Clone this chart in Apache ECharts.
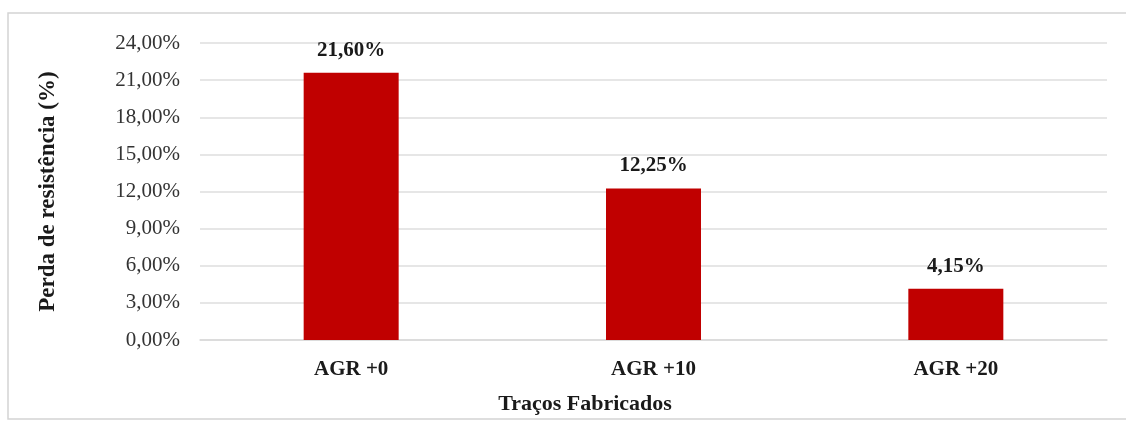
<!DOCTYPE html>
<html>
<head>
<meta charset="utf-8">
<script src="https://cdn.jsdelivr.net/npm/echarts@6/dist/echarts.min.js"></script>
<style>
  html, body { margin: 0; padding: 0; background: #ffffff; }
  #chart { width: 1126px; height: 421px; }
</style>
</head>
<body>
<div id="chart"></div>
<script>
// Strength loss per manufactured mix
const categories = ['AGR +0', 'AGR +10', 'AGR +20'];
const lossValues = [21.60, 12.25, 4.15];
const yTicks = [0, 3, 6, 9, 12, 15, 18, 21, 24];

const yTitle = 'Perda de resistência (%)';
const xTitle = 'Traços Fabricados';

const serif = '"Liberation Serif", "Times New Roman", serif';
const fmtPct = v => v.toFixed(2).replace('.', ',') + '%';

const chart = echarts.init(document.getElementById('chart'), null, { renderer: 'canvas' });

chart.setOption({
  backgroundColor: '#ffffff',
  animation: false,
  grid: { left: 200, right: 19, top: 43, bottom: 81 },
  graphic: [
    {
      type: 'rect',
      shape: { x: 8, y: 13, width: 1130, height: 406 },
      style: { fill: 'none', stroke: '#d4d4d4', lineWidth: 1.5 },
      silent: true
    },
    {
      type: 'text',
      x: 585, y: 404,
      style: {
        text: xTitle,
        font: 'bold 22px ' + serif,
        fill: '#1a1a1a',
        align: 'center',
        verticalAlign: 'middle'
      }
    }
  ],
  xAxis: {
    type: 'category',
    data: categories,
    axisLine: { show: true, lineStyle: { color: '#d9d9d9', width: 1.5 } },
    axisTick: { show: false },
    axisLabel: {
      margin: 19,
      fontFamily: serif,
      fontWeight: 'bold',
      fontSize: 21,
      color: '#1a1a1a'
    }
  },
  yAxis: {
    type: 'value',
    min: yTicks[0],
    max: yTicks[yTicks.length - 1],
    interval: yTicks[1] - yTicks[0],
    name: yTitle,
    nameLocation: 'middle',
    nameRotate: 90,
    nameGap: 140,
    nameTextStyle: {
      fontFamily: serif,
      fontWeight: 'bold',
      fontSize: 23,
      color: '#1a1a1a'
    },
    axisLine: { show: false },
    axisTick: { show: false },
    axisLabel: {
      margin: 20,
      fontFamily: serif,
      fontSize: 21,
      color: '#333333',
      formatter: fmtPct
    },
    splitLine: { show: true, lineStyle: { color: '#dedede', width: 1.5 } }
  },
  series: [
    {
      type: 'bar',
      data: lossValues,
      barWidth: 95,
      itemStyle: { color: '#c00000' },
      label: {
        show: true,
        position: 'top',
        distance: 12,
        fontFamily: serif,
        fontWeight: 'bold',
        fontSize: 21,
        color: '#1a1a1a',
        formatter: p => fmtPct(p.value)
      }
    }
  ]
});
</script>
</body>
</html>
